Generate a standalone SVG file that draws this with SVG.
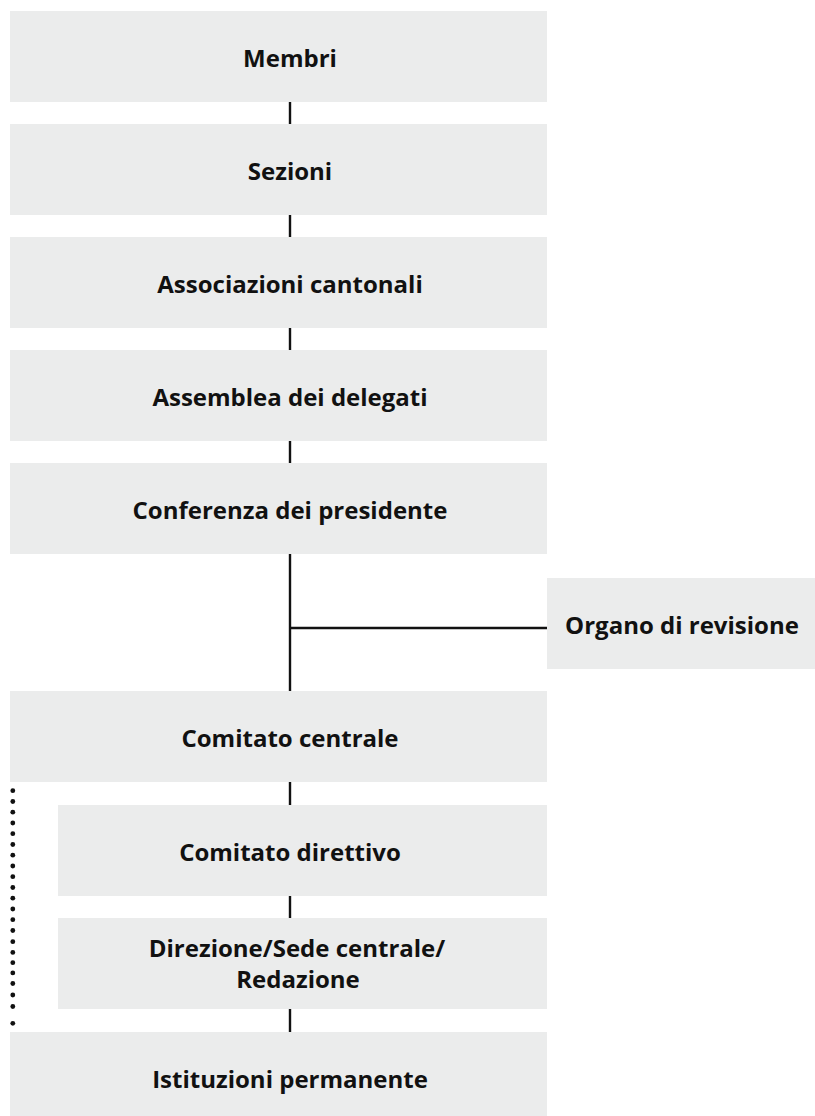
<svg xmlns="http://www.w3.org/2000/svg" width="815" height="1116" viewBox="0 0 815 1116">
<style>
.box{fill:#ebecec}
.lbl{font-family:"Open Sans","Liberation Sans",sans-serif;font-weight:700;font-size:24px;fill:#111;text-anchor:middle}
.con{stroke:#111;stroke-width:2.4;fill:none}
.dot{fill:#111}
</style>
<rect width="815" height="1116" fill="#fff"/>
<g id="connectors">
<line class="con" x1="290" y1="102" x2="290" y2="124"/>
<line class="con" x1="290" y1="215" x2="290" y2="237"/>
<line class="con" x1="290" y1="328" x2="290" y2="350"/>
<line class="con" x1="290" y1="441" x2="290" y2="463"/>
<line class="con" x1="290" y1="554" x2="290" y2="691"/>
<line class="con" x1="290" y1="628" x2="547" y2="628"/>
<line class="con" x1="290" y1="782" x2="290" y2="805"/>
<line class="con" x1="290" y1="896" x2="290" y2="918"/>
<line class="con" x1="290" y1="1009" x2="290" y2="1032"/>
<g id="dotted">
<circle class="dot" cx="12.8" cy="790.7" r="2.4"/>
<circle class="dot" cx="12.8" cy="801.5" r="2.4"/>
<circle class="dot" cx="12.8" cy="812.2" r="2.4"/>
<circle class="dot" cx="12.8" cy="823" r="2.4"/>
<circle class="dot" cx="12.8" cy="833.7" r="2.4"/>
<circle class="dot" cx="12.8" cy="844.5" r="2.4"/>
<circle class="dot" cx="12.8" cy="855.2" r="2.4"/>
<circle class="dot" cx="12.8" cy="866" r="2.4"/>
<circle class="dot" cx="12.8" cy="876.7" r="2.4"/>
<circle class="dot" cx="12.8" cy="887.5" r="2.4"/>
<circle class="dot" cx="12.8" cy="898.2" r="2.4"/>
<circle class="dot" cx="12.8" cy="909" r="2.4"/>
<circle class="dot" cx="12.8" cy="919.7" r="2.4"/>
<circle class="dot" cx="12.8" cy="930.5" r="2.4"/>
<circle class="dot" cx="12.8" cy="941.7" r="2.4"/>
<circle class="dot" cx="12.8" cy="952.4" r="2.4"/>
<circle class="dot" cx="12.8" cy="962.7" r="2.4"/>
<circle class="dot" cx="12.8" cy="972.9" r="2.4"/>
<circle class="dot" cx="12.8" cy="983.5" r="2.4"/>
<circle class="dot" cx="12.8" cy="995" r="2.4"/>
<circle class="dot" cx="12.8" cy="1006.5" r="2.4"/>
<circle class="dot" cx="12.8" cy="1023.3" r="2.4"/>
</g>
</g>
<g id="membri"><rect class="box" x="10" y="11" width="537" height="91"/><text class="lbl" x="290" y="67">Membri</text></g>
<g id="sezioni"><rect class="box" x="10" y="124" width="537" height="91"/><text class="lbl" x="290" y="180">Sezioni</text></g>
<g id="associazioni"><rect class="box" x="10" y="237" width="537" height="91"/><text class="lbl" x="290" y="293">Associazioni cantonali</text></g>
<g id="assemblea"><rect class="box" x="10" y="350" width="537" height="91"/><text class="lbl" x="290" y="406">Assemblea dei delegati</text></g>
<g id="conferenza"><rect class="box" x="10" y="463" width="537" height="91"/><text class="lbl" x="290" y="519">Conferenza dei presidente</text></g>
<g id="organo"><rect class="box" x="547" y="578" width="268" height="91"/><text class="lbl" x="682" y="634">Organo di revisione</text></g>
<g id="comitato-centrale"><rect class="box" x="10" y="691" width="537" height="91"/><text class="lbl" x="290" y="747">Comitato centrale</text></g>
<g id="comitato-direttivo"><rect class="box" x="58" y="805" width="489" height="91"/><text class="lbl" x="290" y="861">Comitato direttivo</text></g>
<g id="direzione"><rect class="box" x="58" y="918" width="489" height="91"/><text class="lbl" x="297" y="957">Direzione/Sede centrale/</text><text class="lbl" x="298" y="988">Redazione</text></g>
<g id="istituzioni"><rect class="box" x="10" y="1032" width="537" height="91"/><text class="lbl" x="290" y="1088">Istituzioni permanente</text></g>
</svg>
